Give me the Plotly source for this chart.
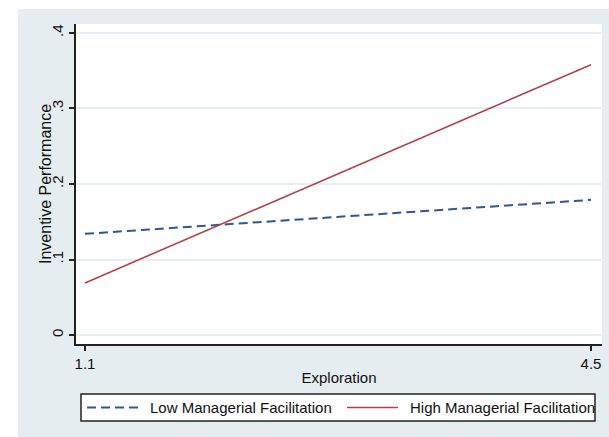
import plotly.graph_objects as go

# Predicted inventive performance at low / high exploration
exploration = [1.1, 4.5]
low_facilitation = [0.134, 0.179]
high_facilitation = [0.069, 0.358]

y_ticks = [0, 0.1, 0.2, 0.3, 0.4]
y_tick_text = ["0", ".1", ".2", ".3", ".4"]
x_ticks = [1.1, 4.5]
x_tick_text = ["1.1", "4.5"]

W, H = 609, 437
L, R, T, B = 76, 7, 24, 93
pw, ph = W - L - R, H - T - B

FONT = "Liberation Sans, Arial, sans-serif"
BG = "#e6edf0"
TXT = "#111"


def px_x(px):
    """Page pixel column -> paper x."""
    return (px - L) / pw


def px_y(py):
    """Page pixel row -> paper y."""
    return (H - B - py) / ph


series = [
    dict(name="Low Managerial Facilitation", y=low_facilitation,
         line=dict(color="#2b5a8c", width=2, dash="9px,5px")),
    dict(name="High Managerial Facilitation", y=high_facilitation,
         line=dict(color="#b0434a", width=1.6)),
]

fig = go.Figure()
for s in series:
    fig.add_trace(go.Scatter(x=exploration, y=s["y"], mode="lines",
                             name=s["name"], line=s["line"]))

# white margin strips at the left and top edges of the page
fig.add_shape(type="rect", xref="paper", yref="paper",
              x0=px_x(0), x1=px_x(18), y0=px_y(H), y1=px_y(0),
              fillcolor="white", line_width=0, layer="below")
fig.add_shape(type="rect", xref="paper", yref="paper",
              x0=px_x(0), x1=px_x(W), y0=px_y(9), y1=px_y(0),
              fillcolor="white", line_width=0, layer="below")

# legend box with key lines and labels
fig.add_shape(type="rect", xref="paper", yref="paper",
              x0=px_x(81), x1=px_x(595), y0=px_y(421), y1=px_y(394),
              fillcolor="white", line=dict(color="#222", width=1.5))
key_starts = [87, 347]
for s, kx in zip(series, key_starts):
    fig.add_shape(type="line", xref="paper", yref="paper",
                  x0=px_x(kx), x1=px_x(kx + 51), y0=px_y(407.5), y1=px_y(407.5),
                  line=s["line"])
    fig.add_annotation(xref="paper", yref="paper", x=px_x(kx + 61), y=px_y(407.5),
                       text=s["name"], showarrow=False, xanchor="left", yanchor="middle",
                       font=dict(family=FONT, size=15, color=TXT))

# y-axis title
fig.add_annotation(xref="paper", yref="paper", x=px_x(45), y=0.5,
                   text="Inventive Performance", textangle=-90, showarrow=False,
                   xanchor="center", yanchor="middle",
                   font=dict(family=FONT, size=16, color=TXT))

axis_common = dict(
    showline=True, linecolor="#222", linewidth=1.5,
    ticks="outside", ticklen=5, tickwidth=1.5, tickcolor="#222",
    tickfont=dict(family=FONT, size=15, color=TXT),
    zeroline=False,
)

fig.update_xaxes(
    range=[1.0395, 4.574], tickvals=x_ticks, ticktext=x_tick_text,
    showgrid=False,
    title=dict(text="Exploration", font=dict(family=FONT, size=15, color=TXT), standoff=2),
    **axis_common,
)
fig.update_yaxes(
    range=[-0.0119, 0.4119], tickvals=y_ticks, ticktext=y_tick_text,
    tickangle=-90, showgrid=True, gridcolor="#e8eff2", gridwidth=1.5,
    **axis_common,
)

fig.update_layout(
    width=W, height=H,
    margin=dict(l=L, r=R, t=T, b=B, autoexpand=False),
    paper_bgcolor=BG, plot_bgcolor="white",
    font=dict(family=FONT, size=15, color=TXT),
    showlegend=False,
)

fig.write_html("out.html")
